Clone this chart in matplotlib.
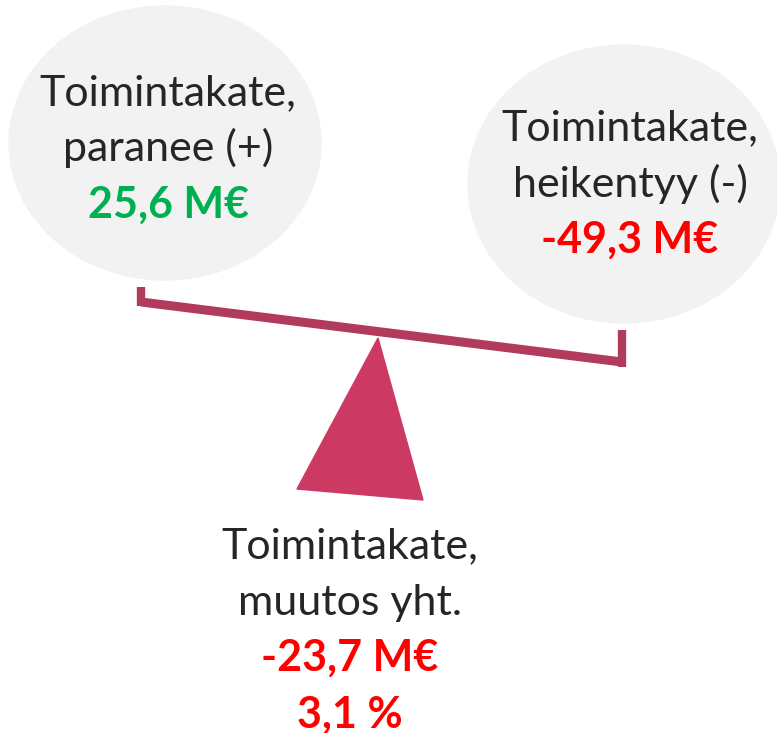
import matplotlib.pyplot as plt
from matplotlib.patches import Ellipse, Polygon

# arvot (M€) ja muutosprosentti
labels = ['Toimintakate,\nparanee (+)', 'Toimintakate,\nheikentyy (-)', 'Toimintakate,\nmuutos yht.']
values = [25.6, -49.3, -23.7]
change_pct = 3.1

def fmt(v):
    return f'{v:.1f}'.replace('.', ',') + ' M€'

def col(v):
    return '#00B050' if v > 0 else '#FF0000'

plt.rcParams['font.family'] = ['Lato', 'DejaVu Sans']

fig = plt.figure(figsize=(7.77, 7.33), dpi=100)
ax = fig.add_axes([0, 0, 1, 1])
ax.set_xlim(0, 777)
ax.set_ylim(733, 0)
ax.axis('off')

dark = '#262626'
fs = 31
step = 56.5

# harmaat pallot
ax.add_patch(Ellipse((165, 143), 312, 274, color='#F2F2F2', zorder=1))
ax.add_patch(Ellipse((624, 184), 312, 278, color='#F2F2F2', zorder=1))

# vaaka
beam = '#B23A5C'
ax.plot([141, 622], [302, 362], color=beam, lw=6.5, solid_capstyle='butt', zorder=3)
ax.plot([141, 141], [287, 306], color=beam, lw=6, solid_capstyle='butt', zorder=3)
ax.plot([622, 622], [330, 367], color=beam, lw=6, solid_capstyle='butt', zorder=3)
ax.add_patch(Polygon([(378, 338), (297, 489), (423, 500)], closed=True,
                     color='#CC3A64', zorder=2))

# tekstit, rivi kerrallaan
def block(x, y0, label, lines_after):
    y = y0
    for line in label.split('\n'):
        ax.text(x, y, line, ha='center', va='baseline', fontsize=fs,
                color=dark, zorder=4)
        y += step
    for txt, c in lines_after:
        ax.text(x, y, txt, ha='center', va='baseline', fontsize=fs,
                color=c, fontweight='bold', zorder=4)
        y += step

block(168, 105, labels[0], [(fmt(values[0]), col(values[0]))])
block(630, 140, labels[1], [(fmt(values[1]), col(values[1]))])
block(350, 558, labels[2], [(fmt(values[2]), col(values[2])),
                            (f'{change_pct:.1f}'.replace('.', ',') + ' %', '#FF0000')])

fig.savefig('out.png', dpi=100)
